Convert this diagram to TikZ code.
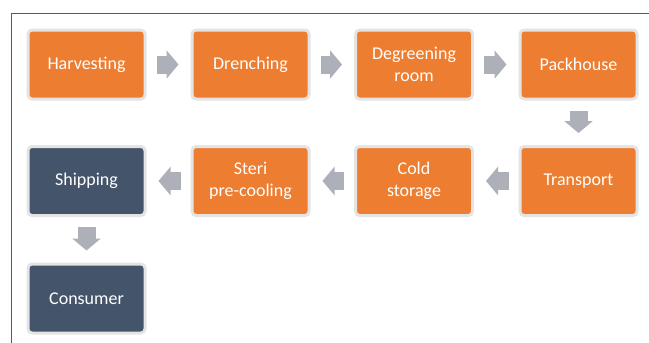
\documentclass[tikz,border=0pt]{standalone}
\usepackage{fontspec}
\setmainfont{Carlito}
\usetikzlibrary{arrows.meta}
\definecolor{stepor}{HTML}{ED7D31}
\definecolor{stepdk}{HTML}{44546A}
\definecolor{flowgr}{HTML}{ADB0B8}
\definecolor{rimgr}{HTML}{E4E4E4}
\tikzset{
  stage/.style={draw=rimgr, line width=3pt, rounded corners=4pt, fill=stepor,
    minimum width=117pt, minimum height=69pt, inner sep=0pt, align=center,
    text=white, font=\fontsize{18}{22}\selectfont},
  stagedk/.style={stage, fill=stepdk},
  flow/.style={draw=flowgr, line width=18pt,
    -{Triangle[width=28pt,length=12pt]}, shorten <=10pt, shorten >=12pt}
}
\begin{document}
\begin{tikzpicture}[x=1pt,y=-1pt]
  \useasboundingbox (0,0) rectangle (649,343);
  \coordinate (tr) at (649,13);
  \coordinate (tl) at (11,13);
  \coordinate (bl) at (11,343);
  \draw[line width=1pt, black!65] (tr) -- (tl) -- (bl);
  % first row
  \node[stage] (harv) at (86.5,64.5) {Harvesting};
  \node[stage] (drench) at (250.5,64.5) {Drenching};
  \node[stage] (degreen) at (414,64.5) {Degreening\\room};
  \node[stage] (pack) at (578.5,64.5) {Packhouse};
  % second row
  \node[stage] (trans) at (578.5,181) {Transport};
  \node[stage] (cold) at (414,181) {Cold\\storage};
  \node[stage] (steri) at (250.5,181) {Steri\\pre-cooling};
  \node[stagedk] (ship) at (86.5,181) {Shipping};
  % last
  \node[stagedk] (cons) at (86.5,298.5) {Consumer};
  \draw[flow] (harv) -- (drench);
  \draw[flow] (drench) -- (degreen);
  \draw[flow] (degreen) -- (pack);
  \draw[flow] (pack) -- (trans);
  \draw[flow] (trans) -- (cold);
  \draw[flow] (cold) -- (steri);
  \draw[flow] (steri) -- (ship);
  \draw[flow] (ship) -- (cons);
\end{tikzpicture}
\end{document}
